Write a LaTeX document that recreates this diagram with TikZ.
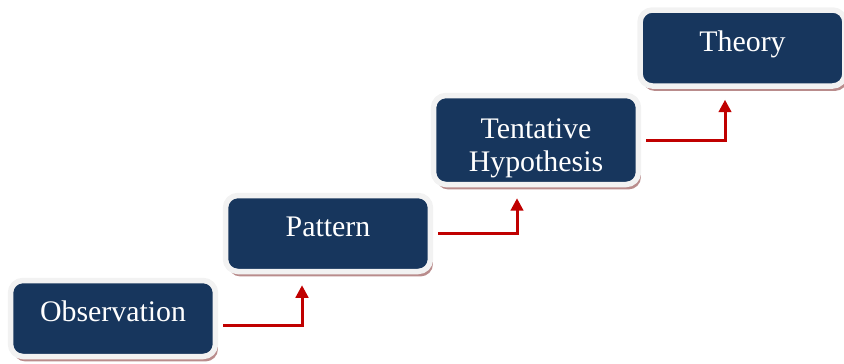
\documentclass[tikz,border=0pt]{standalone}
\usepackage{fontspec}
\setmainfont{Liberation Serif}
\usetikzlibrary{arrows.meta,shadows}
\definecolor{stepnavy}{HTML}{17365D}
\definecolor{steprim}{HTML}{F2F2F2}
\definecolor{stepshade}{HTML}{B98C8C}
\definecolor{stepred}{HTML}{C00000}

\begin{document}
\begin{tikzpicture}[x=0.02cm,y=-0.02cm]
		\tikzset{StepStyle/.style = {rectangle, rounded corners=7pt, fill=stepnavy, draw=steprim,
				line width=0.11cm, minimum width=4.1cm, minimum height=1.52cm, text=white,
				font=\fontsize{17}{18.5}\selectfont, align=center, text depth=0.28cm,
				drop shadow={shadow xshift=1.4pt, shadow yshift=-2.8pt, fill=stepshade, opacity=1}},
			LinkStyle/.style = {draw=stepred, line width=1.7pt, shorten <=0.1cm, shorten >=0.22cm,
				-{Triangle[length=0.25cm,width=0.25cm]}}}
		\useasboundingbox (0,0) rectangle (844,363);
		\node[StepStyle] (obs) at (113,318.5) {Observation};
		\node[StepStyle] (pat) at (328,233.5) {Pattern};
		\node[StepStyle, minimum height=1.78cm, text depth=0pt] (tent) at (536,140) {\rule{0pt}{0.6cm}Tentative\\Hypothesis};
		\node[StepStyle] (theo) at (742.5,48) {Theory};
		%\draw[LinkStyle] (obs) -- (pat);
		\draw[LinkStyle] ([yshift=-0.13cm]obs.east) -| ([xshift=-0.52cm]pat.south);
		\draw[LinkStyle] (pat.east) -| ([xshift=-0.38cm]tent.south);
		\draw[LinkStyle] (tent.east) -| ([xshift=-0.35cm]theo.south);
		\end{tikzpicture}
\end{document}
